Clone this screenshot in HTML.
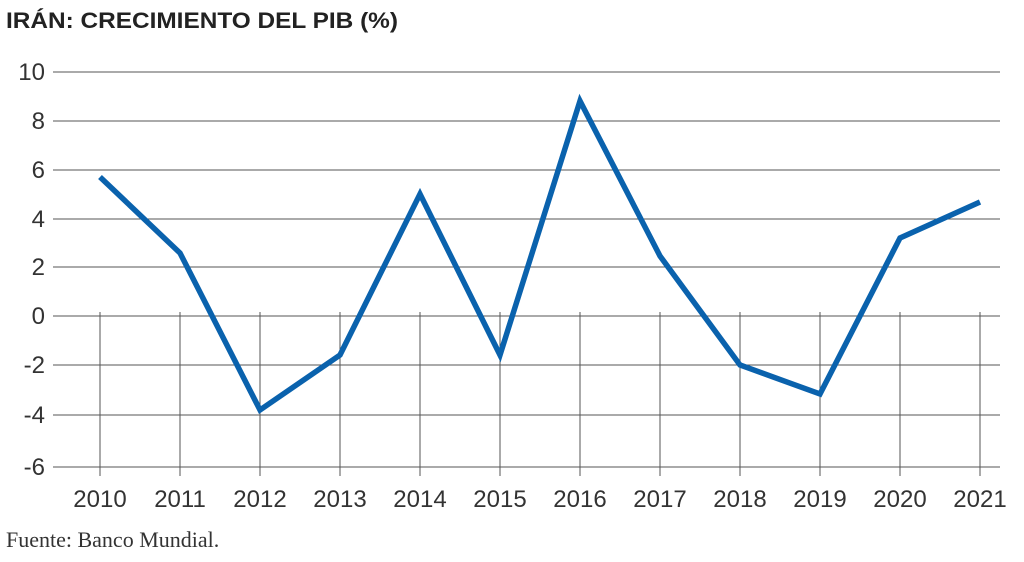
<!DOCTYPE html>
<html><head><meta charset="utf-8"><style>
body{margin:0;background:#fff;width:1024px;height:557px;overflow:hidden}
</style></head><body>
<svg width="1024" height="557" xmlns="http://www.w3.org/2000/svg" font-family="Liberation Sans, sans-serif">
<text x="6" y="28" font-size="22" font-weight="bold" fill="#222" textLength="392" lengthAdjust="spacingAndGlyphs">IRÁN: CRECIMIENTO DEL PIB (%)</text>
<g stroke="#555" stroke-width="1">
<line x1="53" y1="72" x2="1000" y2="72"/>
<line x1="53" y1="121" x2="1000" y2="121"/>
<line x1="53" y1="170" x2="1000" y2="170"/>
<line x1="53" y1="219" x2="1000" y2="219"/>
<line x1="53" y1="267" x2="1000" y2="267"/>
<line x1="53" y1="316" x2="1000" y2="316"/>
<line x1="53" y1="365" x2="1000" y2="365"/>
<line x1="53" y1="415" x2="1000" y2="415"/>
<line x1="53" y1="467" x2="1000" y2="467"/>
<line x1="100" y1="312" x2="100" y2="476"/>
<line x1="180" y1="312" x2="180" y2="476"/>
<line x1="260" y1="312" x2="260" y2="476"/>
<line x1="340" y1="312" x2="340" y2="476"/>
<line x1="420" y1="312" x2="420" y2="476"/>
<line x1="500" y1="312" x2="500" y2="476"/>
<line x1="580" y1="312" x2="580" y2="476"/>
<line x1="660" y1="312" x2="660" y2="476"/>
<line x1="740" y1="312" x2="740" y2="476"/>
<line x1="820" y1="312" x2="820" y2="476"/>
<line x1="900" y1="312" x2="900" y2="476"/>
<line x1="980" y1="312" x2="980" y2="476"/>
</g>
<g font-size="24" fill="#333" text-anchor="end">
<text x="45" y="80">10</text><text x="45" y="129">8</text><text x="45" y="178">6</text>
<text x="45" y="227">4</text><text x="45" y="275">2</text><text x="45" y="324">0</text>
<text x="45" y="373">-2</text><text x="45" y="423">-4</text><text x="45" y="475">-6</text>
</g>
<g font-size="24" fill="#333" text-anchor="middle">
<text x="100" y="507">2010</text><text x="180" y="507">2011</text><text x="260" y="507">2012</text>
<text x="340" y="507">2013</text><text x="420" y="507">2014</text><text x="500" y="507">2015</text>
<text x="580" y="507">2016</text><text x="660" y="507">2017</text><text x="740" y="507">2018</text>
<text x="820" y="507">2019</text><text x="900" y="507">2020</text><text x="980" y="507">2021</text>
</g>
<polyline fill="none" stroke="#0a62ad" stroke-width="5.5" stroke-linejoin="miter" points="100,177 180,253 260,410 340,355 420,194 500,355 580,101 660,256 740,365 820,394 900,238 980,202"/>
<text x="6" y="547" font-size="22" fill="#333" font-family="Liberation Serif, serif">Fuente: Banco Mundial.</text>
</svg>
</body></html>
